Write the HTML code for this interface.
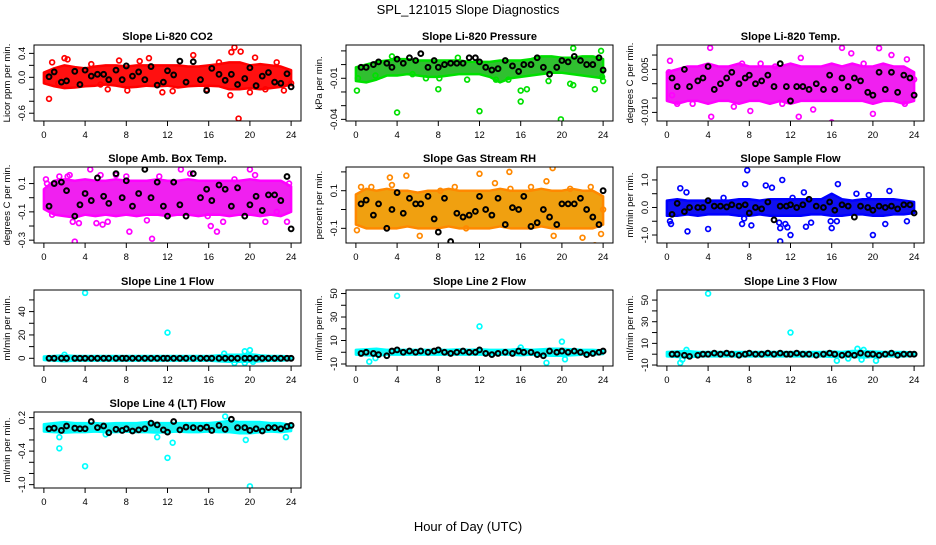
<!DOCTYPE html>
<html><head><meta charset="utf-8"><style>
body{margin:0;background:#fff}
svg text{font-family:"Liberation Sans",Arial,sans-serif}
</style></head><body>
<svg id="fig" width="936" height="540" viewBox="0 0 936 540" xmlns="http://www.w3.org/2000/svg">
<rect width="936" height="540" fill="#fff"/>
<text x="468" y="14" text-anchor="middle" font-size="13">SPL_121015  Slope Diagnostics</text>
<text x="468" y="531" text-anchor="middle" font-size="13">Hour of Day (UTC)</text>
</svg>
<script>
const bandHours=[0,1,2,3,4,5,6,7,8,9,10,11,12,13,14,15,16,17,18,19,20,21,22,23,24];
const blackHours=[0.5,1,1.7,2.2,3,3.5,4,4.6,5.2,5.8,6.3,7,7.6,8,8.6,9.2,9.8,10.4,11,11.6,12,12.6,13.2,13.8,14.5,15.2,15.8,16.3,17,17.6,18.2,18.8,19.5,20,20.6,21.2,21.8,22.4,23,23.6,24];
const xTicks=[0,4,8,12,16,20,24];

const co2Low=[-0.1,-0.15,-0.18,-0.17,-0.15,-0.14,-0.12,-0.14,-0.17,-0.16,-0.14,-0.15,-0.14,-0.17,-0.15,-0.14,-0.14,-0.15,-0.2,-0.2,-0.18,-0.2,-0.18,-0.16,-0.12];
const co2High=[0.08,0.15,0.2,0.17,0.15,0.18,0.2,0.2,0.18,0.2,0.2,0.2,0.2,0.2,0.18,0.18,0.2,0.22,0.25,0.25,0.2,0.22,0.2,0.18,0.12];
const co2PtX=[0.3,0.5,0.8,1.4,2,2.3,4.6,5.5,6.2,7.3,8.1,9.3,10.2,11.5,12.5,14.5,15.8,17,18.2,18.5,18.9,18.1,19.1,20,20.5,21.5,22.6,23.3,24];
const co2PtY=[0.05,-0.36,0.25,-0.1,0.32,0.3,0.22,-0.12,-0.2,0.28,-0.22,0.27,0.32,-0.25,-0.23,0.37,-0.2,0.25,0.42,0.5,-0.69,-0.3,0.43,-0.25,0.33,-0.2,0.25,-0.22,-0.1];
const co2Blk=[0.01,0.09,-0.08,-0.06,0.1,-0.12,0.12,0.02,0.05,0.05,-0.04,0.12,-0.04,0.19,0.02,0.09,-0.04,0.18,-0.13,-0.08,0.11,0.04,0.27,-0.08,0.26,-0.04,-0.22,0.15,0.05,-0.05,0.05,-0.12,-0.02,0.16,-0.14,0.02,0.08,-0.08,-0.1,0.06,-0.16];

const presLow=[-0.012,-0.013,-0.011,-0.008,-0.008,-0.007,-0.008,-0.009,-0.009,-0.008,-0.007,-0.007,-0.007,-0.009,-0.013,-0.01,-0.009,-0.008,-0.007,-0.006,-0.006,-0.007,-0.008,-0.009,-0.01];
const presHigh=[-0.002,0.0,0.002,0.003,0.004,0.004,0.003,0.003,0.003,0.003,0.003,0.002,0.002,0.002,0.003,0.003,0.003,0.004,0.006,0.006,0.005,0.005,0.006,0.006,0.004];
const presPtX=[0.1,0.2,1.9,3.5,4,5.5,6.8,8,8.1,9.9,10.8,12,13.6,14.8,16,16,16.6,18.7,19.9,20.8,21.1,21.1,23.2,23.8,24,23.9];
const presPtY=[-0.019,-0.01,-0.008,0.006,-0.035,-0.007,-0.01,-0.018,-0.01,0.005,-0.011,-0.034,-0.011,-0.011,-0.027,-0.019,-0.018,-0.012,-0.040,-0.014,-0.015,0.012,-0.018,0.01,-0.012,-0.009];
const presBlk=[-0.002,-0.002,0.0,0.002,0.001,-0.002,0.004,0.001,0.005,0.003,0.008,-0.002,0.003,-0.002,0.0,0.001,0.001,0.001,0.005,0.005,0.002,-0.002,-0.004,-0.003,0.003,-0.001,-0.005,0.0,0.0,0.005,-0.002,-0.007,-0.002,0.003,0.002,0.006,0.003,0.0,0.0,0.005,-0.004];

const tempLow=[-0.006,-0.007,-0.006,-0.006,-0.007,-0.006,-0.006,-0.007,-0.006,-0.006,-0.007,-0.006,-0.007,-0.006,-0.006,-0.006,-0.006,-0.006,-0.006,-0.006,-0.007,-0.006,-0.006,-0.007,-0.006];
const tempHigh=[0.004,0.005,0.006,0.006,0.007,0.006,0.006,0.007,0.006,0.006,0.006,0.006,0.007,0.006,0.006,0.006,0.007,0.006,0.007,0.006,0.006,0.007,0.006,0.006,0.004];
const tempPtX=[0.3,0.2,0.5,1,2.5,4.2,4.3,6.5,7.3,8.1,9.1,10.5,11.2,12.8,13,14.2,16,17,17.9,19.1,20,20.6,21.8,23.3,23.1,24];
const tempPtY=[0.008,0.004,-0.004,-0.007,-0.007,0.0125,-0.0115,-0.008,0.007,-0.0095,0.007,0.006,-0.007,-0.0115,0.009,-0.009,-0.0135,0.0125,0.0106,0.007,-0.0105,0.0124,0.01,0.0085,-0.007,0.0015];
const tempBlk=[0.002,-0.001,0.005,-0.001,0.001,0.002,0.006,-0.002,0.0,0.002,0.004,0.0,0.002,0.003,0.0,0.001,0.003,-0.001,0.007,-0.001,-0.006,-0.001,-0.001,-0.002,0.0,-0.002,0.003,-0.002,0.002,-0.001,0.002,0.001,-0.003,-0.004,0.004,-0.002,0.004,-0.003,0.003,0.002,-0.004];

const ambLow=[-0.08,-0.12,-0.13,-0.14,-0.12,-0.13,-0.12,-0.13,-0.12,-0.13,-0.12,-0.12,-0.13,-0.12,-0.12,-0.13,-0.12,-0.12,-0.13,-0.12,-0.12,-0.13,-0.12,-0.13,-0.1];
const ambHigh=[0.06,0.12,0.13,0.12,0.13,0.12,0.12,0.13,0.12,0.12,0.12,0.13,0.12,0.12,0.13,0.12,0.12,0.12,0.12,0.12,0.13,0.12,0.12,0.12,0.08];
const ambPtX=[0.2,0.3,0.8,1.5,2.3,2.5,2.8,3,3.4,4.5,5.1,5.5,5.7,6.2,7,8.3,8,10,10.5,11.2,13.3,14.2,15.9,16.2,16.8,17.4,18.5,20,20.5,21.5,22.6,23.6,23.8];
const ambPtY=[0.13,0.1,-0.12,0.15,0.15,0.16,-0.17,-0.31,-0.18,0.2,-0.18,0.16,-0.19,-0.17,0.16,-0.24,0.15,-0.16,-0.29,0.15,0.2,0.17,-0.13,-0.2,-0.24,-0.17,0.13,0.2,0.16,-0.17,-0.1,-0.17,0.1];
const ambBlk=[-0.06,0.1,0.11,0.05,-0.13,-0.05,0.03,-0.02,0.14,0.01,-0.04,0.17,0.0,0.12,-0.06,0.03,0.2,0.0,0.11,-0.06,-0.13,0.11,-0.05,-0.13,0.17,0.0,0.06,-0.02,0.09,0.06,-0.06,0.07,-0.13,-0.05,0.01,-0.09,0.02,0.02,-0.02,0.15,-0.22];

const rhLow=[-0.08,-0.1,-0.1,-0.1,-0.1,-0.09,-0.1,-0.1,-0.1,-0.09,-0.1,-0.1,-0.1,-0.1,-0.09,-0.1,-0.1,-0.1,-0.09,-0.1,-0.1,-0.1,-0.1,-0.1,-0.08];
const rhHigh=[0.08,0.11,0.1,0.11,0.1,0.1,0.09,0.1,0.1,0.11,0.1,0.1,0.1,0.1,0.11,0.1,0.1,0.1,0.11,0.1,0.1,0.11,0.1,0.1,0.07];
const rhPtX=[0.1,0.5,1.5,3.3,3.5,4.9,6.2,8.2,9.6,10.7,12,13.5,14.9,15,17,18.5,19.1,19.2,20.8,22,22.8,23.2,23.8,24];
const rhPtY=[-0.11,0.12,0.12,0.17,0.13,0.18,-0.14,0.1,0.12,-0.1,0.19,0.14,0.2,0.11,0.12,0.15,0.22,-0.14,0.11,-0.15,0.12,-0.19,-0.13,0];
const rhBlk=[0.03,0.05,-0.03,0.03,-0.1,0.0,0.09,-0.02,0.06,0.03,0.03,0.07,-0.05,-0.12,0.06,-0.17,-0.02,-0.04,-0.03,-0.01,0.07,0.0,-0.03,0.06,-0.08,0.01,0.0,0.07,-0.09,-0.07,0.0,-0.04,-0.08,0.03,0.03,0.03,0.06,0.0,-0.04,-0.08,0.1];

const sfLow=[-0.3,-0.3,-0.25,-0.3,-0.25,-0.25,-0.25,-0.3,-0.3,-0.25,-0.3,-0.3,-0.3,-0.3,-0.25,-0.25,-0.3,-0.3,-0.25,-0.25,-0.3,-0.3,-0.25,-0.25,-0.2];
const sfHigh=[0.25,0.3,0.25,0.25,0.25,0.25,0.25,0.3,0.3,0.25,0.3,0.3,0.3,0.3,0.3,0.3,0.5,0.3,0.25,0.3,0.3,0.3,0.3,0.25,0.2];
const sfPtX=[0.3,0.4,1.3,1.9,2,4,5.5,7.3,7.5,7.6,7.8,8.2,9.6,10.2,10.9,11,11.2,11.5,11,11.7,12,12.2,13.3,13.5,14,15.9,16,16.6,16.5,18.4,19.6,20,21.2,21.6,23.3];
const sfPtY=[-0.5,-0.6,0.7,0.55,-0.87,-0.78,0.35,-0.6,-0.4,0.85,1.35,-0.65,0.8,0.72,-0.55,-0.75,1.0,-0.6,-1.23,-0.72,-1.0,0.35,0.55,-0.7,-0.55,-0.5,-0.75,0.85,-0.5,0.5,0.45,-1.0,-0.6,0.6,-0.5];
const sfBlk=[-0.25,0.15,-0.15,0.0,0.0,0.0,0.25,0.05,0.05,0.02,0.1,0.05,0.1,-0.2,0.0,-0.05,0.2,-0.45,0.05,0.05,0.1,0.0,0.1,0.3,0.05,0.0,0.2,-0.1,0.1,0.05,-0.35,0.05,0.0,-0.1,0.05,0.0,0.05,-0.05,0.1,0.1,-0.2];

const l1Low=[-1.5,-2,-2.5,-2,-2,-2,-2,-2,-2,-2,-2,-2,-2,-2,-2,-2,-2,-2.5,-3,-3,-3,-2.5,-2,-2,-1.5];
const l1High=[1.5,2,2.5,2,2,2,2,2,2,2,2,2,2,2,2,2,2,2.5,3,3,3.5,2.5,2,2,1.5];
const l1PtX=[4,12,2,18.5,19.5,20,19.5,20.3,17.5];
const l1PtY=[56,22,3,-4,6,7,-4,-3,4];
const l1Blk=[0,0,0,0,0,0,0,0,0,0,0,0,0,0,0,0,0,0,0,0,0,0,0,0,0,0,0,0,0,0,0,0,0,0,0,0,0,0,0,0,0];

const l2Low=[-2,-2.5,-3,-2,-2,-2,-2,-2,-2,-2,-2,-2,-2,-2,-2,-2,-2.5,-2,-2.5,-3,-3,-2.5,-2,-2,-1.5];
const l2High=[2,2.5,3,2,2,2,2,2,2,2,2.5,2,2.5,2,2,2,3,2,2.5,3,3,2.5,2,2,1.5];
const l2PtX=[4,12,20,1.3,18.5,20.3,16,1.9];
const l2PtY=[48,22,9,-8,-9,-6,4,-5];
const l2Blk=[-1,0,-1,-2,-3,1,2,0,1,0,1,0,1,2,0,-1,0,1,0,0,2,-1,-2,-1,0,-1,1,0,0,-2,-3,1,0,1,0,1,0,-2,-1,0,1];

const l3Low=[-2,-2.5,-3,-2,-2,-2,-2,-2,-2,-2,-2,-2,-2,-2,-2,-2,-2.5,-2,-2.5,-3,-2.5,-2,-2,-2,-1.5];
const l3High=[2,2.5,3,2,2,2,2,2,2,2,2,2,2,2,2,2,2.5,2,3,3,2.5,2,2,2,1.5];
const l3PtX=[4,12,1.3,1.5,1.9,16.5,17.6,18.5,19.1,18.9,20.3];
const l3PtY=[56,20,-8,-5,4,-6,-4,5,4,-5,-6];
const l3Blk=[0,0,-1,-2,-1,0,0,1,0,1,0,-1,0,1,0,0,1,0,1,0,0,1,0,0,-1,0,1,0,-1,0,-1,1,0,0,-1,0,1,-1,0,0,0];

const l4Low=[-0.05,-0.06,-0.07,-0.06,-0.06,-0.05,-0.06,-0.06,-0.05,-0.06,-0.06,-0.07,-0.06,-0.05,-0.06,-0.06,-0.05,-0.06,-0.06,-0.08,-0.08,-0.06,-0.05,-0.06,-0.04];
const l4High=[0.08,0.1,0.12,0.1,0.1,0.1,0.09,0.1,0.1,0.1,0.12,0.1,0.1,0.1,0.1,0.1,0.1,0.12,0.14,0.12,0.12,0.12,0.1,0.1,0.07];
const l4PtX=[1.5,4,12,12.5,1.5,20,17.6,19.6,23.5,11,6];
const l4PtY=[-0.35,-0.67,-0.52,-0.25,-0.15,-1.03,0.22,-0.2,-0.15,-0.15,-0.1];
const l4Blk=[0.0,0.01,-0.03,0.05,0.01,0.0,0.0,0.13,0.02,0.05,-0.07,-0.01,-0.03,0.0,-0.04,-0.02,0.0,0.1,0.07,-0.02,-0.06,0.13,-0.02,0.03,0.02,0.01,0.03,-0.03,0.06,-0.01,0.17,0.02,0.02,-0.03,0.0,-0.04,0.02,0.02,0.0,0.04,0.06];

const NS='http://www.w3.org/2000/svg';
const svg=document.getElementById('fig');
function mk(tag,attrs,parent){const e=document.createElementNS(NS,tag);for(const k in attrs)e.setAttribute(k,attrs[k]);(parent||svg).appendChild(e);return e;}

const panels=[
 {name:'co2',title:'Slope Li-820 CO2',ylab:'Licor ppm per min.',col:0,row:0,ylim:[-0.73,0.54],ticks:[-0.6,-0.4,-0.2,0,0.2,0.4],labels:[[-0.6,'-0.6'],[0,'0.0'],[0.4,'0.4']],color:'#ff0000',fill:'#ff1010',low:co2Low,high:co2High,px:co2PtX,py:co2PtY,blk:co2Blk},
 {name:'pressure',title:'Slope Li-820 Pressure',ylab:'kPa per min.',col:1,row:0,ylim:[-0.0412,0.0143],ticks:[-0.04,-0.03,-0.02,-0.01,0,0.01],labels:[[-0.04,'-0.04'],[-0.01,'-0.01']],color:'#00e000',fill:'#30c030',low:presLow,high:presHigh,px:presPtX,py:presPtY,blk:presBlk},
 {name:'temp',title:'Slope Li-820 Temp.',ylab:'degrees C per min.',col:2,row:0,ylim:[-0.013,0.0135],ticks:[-0.01,-0.005,0,0.005,0.01],labels:[[-0.01,'-0.010'],[0.005,'0.005']],color:'#ff00ff',fill:'#f020f0',low:tempLow,high:tempHigh,px:tempPtX,py:tempPtY,blk:tempBlk},
 {name:'amb-box-temp',title:'Slope Amb. Box Temp.',ylab:'degrees C per min.',col:0,row:1,ylim:[-0.32,0.217],ticks:[-0.3,-0.2,-0.1,0,0.1],labels:[[-0.3,'-0.3'],[-0.1,'-0.1'],[0.1,'0.1']],color:'#ff00ff',fill:'#f020f0',low:ambLow,high:ambHigh,px:ambPtX,py:ambPtY,blk:ambBlk},
 {name:'gas-rh',title:'Slope Gas Stream RH',ylab:'percent per min.',col:1,row:1,ylim:[-0.178,0.226],ticks:[-0.1,0,0.1,0.2],labels:[[-0.1,'-0.1'],[0.1,'0.1']],color:'#ff8800',fill:'#f0a010',low:rhLow,high:rhHigh,px:rhPtX,py:rhPtY,blk:rhBlk},
 {name:'sample-flow',title:'Slope Sample Flow',ylab:'ml/min per min.',col:2,row:1,ylim:[-1.29,1.47],ticks:[-1,-0.5,0,0.5,1],labels:[[-1,'-1.0'],[0,'0.0'],[1,'1.0']],color:'#0000ff',fill:'#1010f0',low:sfLow,high:sfHigh,px:sfPtX,py:sfPtY,blk:sfBlk},
 {name:'line1-flow',title:'Slope Line 1 Flow',ylab:'ml/min per min.',col:0,row:2,ylim:[-6.6,58.5],ticks:[0,10,20,30,40,50],labels:[[0,'0'],[20,'20'],[40,'40']],color:'#00ffff',fill:'#20f0f0',low:l1Low,high:l1High,px:l1PtX,py:l1PtY,blk:l1Blk},
 {name:'line2-flow',title:'Slope Line 2 Flow',ylab:'ml/min per min.',col:1,row:2,ylim:[-11.7,53],ticks:[-10,0,10,20,30,40,50],labels:[[-10,'-10'],[10,'10'],[30,'30'],[50,'50']],color:'#00ffff',fill:'#20f0f0',low:l2Low,high:l2High,px:l2PtX,py:l2PtY,blk:l2Blk},
 {name:'line3-flow',title:'Slope Line 3 Flow',ylab:'ml/min per min.',col:2,row:2,ylim:[-10.9,59.3],ticks:[-10,0,10,20,30,40,50],labels:[[-10,'-10'],[10,'10'],[30,'30'],[50,'50']],color:'#00ffff',fill:'#20f0f0',low:l3Low,high:l3High,px:l3PtX,py:l3PtY,blk:l3Blk},
 {name:'line4-flow',title:'Slope Line 4 (LT) Flow',ylab:'ml/min per min.',col:0,row:3,ylim:[-1.06,0.3],ticks:[-1,-0.8,-0.6,-0.4,-0.2,0,0.2],labels:[[-1,'-1.0'],[-0.4,'-0.4'],[0.2,'0.2']],color:'#00ffff',fill:'#20f0f0',low:l4Low,high:l4High,px:l4PtX,py:l4PtY,blk:l4Blk}
];
const colLeft=[34,346,657], rowTop=[45,167,290,412], W=267, H=76;

panels.forEach(p=>{
 const L=colLeft[p.col], T=rowTop[p.row];
 const g=mk('g',{});
 
 
 const sx=x=>L+(x+0.96)/25.92*W;
 const sy=v=>T+H-(v-p.ylim[0])/(p.ylim[1]-p.ylim[0])*H;
 const clip=mk('clipPath',{id:'c-'+p.name},g);
 mk('rect',{x:L,y:T,width:W,height:H},clip);
 const pg=mk('g',{'clip-path':'url(#c-'+p.name+')'},g);
 let pts=bandHours.map((h,i)=>sx(h)+','+sy(p.high[i]));
 pts=pts.concat(bandHours.slice().reverse().map((h,j)=>sx(h)+','+sy(p.low[bandHours.length-1-j])));
 const band=mk('polygon',{points:pts.join(' '),fill:p.fill,stroke:p.color,'stroke-width':2.5,'stroke-linejoin':'round'},pg);
 
 
 p.px.forEach((x,i)=>{
  const c=mk('circle',{cx:sx(x),cy:sy(p.py[i]),r:2.4,fill:'none',stroke:p.color,'stroke-width':1.7},pg);
  
  
 });
 blackHours.forEach((x,i)=>{
  const c=mk('circle',{cx:sx(x),cy:sy(p.blk[i]),r:2.4,fill:'none',stroke:'#000','stroke-width':2},pg);
  
  
 });
 const box=mk('rect',{x:L,y:T,width:W,height:H,fill:'none',stroke:'#000','stroke-width':1},g);
 
 
 xTicks.forEach(t=>{
  mk('line',{x1:sx(t),x2:sx(t),y1:T+H,y2:T+H+5,stroke:'#000'},g);
  const tx=mk('text',{x:sx(t),y:T+H+17,'text-anchor':'middle','font-size':9.5},g);
  tx.textContent=t;
  
  
 });
 p.ticks.forEach(t=>{mk('line',{x1:L-5,x2:L,y1:sy(t),y2:sy(t),stroke:'#000'},g);});
 p.labels.forEach(([v,s])=>{
  const tx=mk('text',{x:0,y:0,'text-anchor':'middle','font-size':9.5,transform:`translate(${L-9},${sy(v)}) rotate(-90)`},g);
  tx.textContent=s;
  
  
 });
 const yl=mk('text',{x:0,y:0,'text-anchor':'middle','font-size':9.5,transform:`translate(${L-24},${T+H/2}) rotate(-90)`},g);
 yl.textContent=p.ylab;
 
 
 const ti=mk('text',{x:L+W/2,y:T-5,'text-anchor':'middle','font-size':11,'font-weight':'bold'},g);
 ti.textContent=p.title;
 
 
});
</script>
</body></html>
